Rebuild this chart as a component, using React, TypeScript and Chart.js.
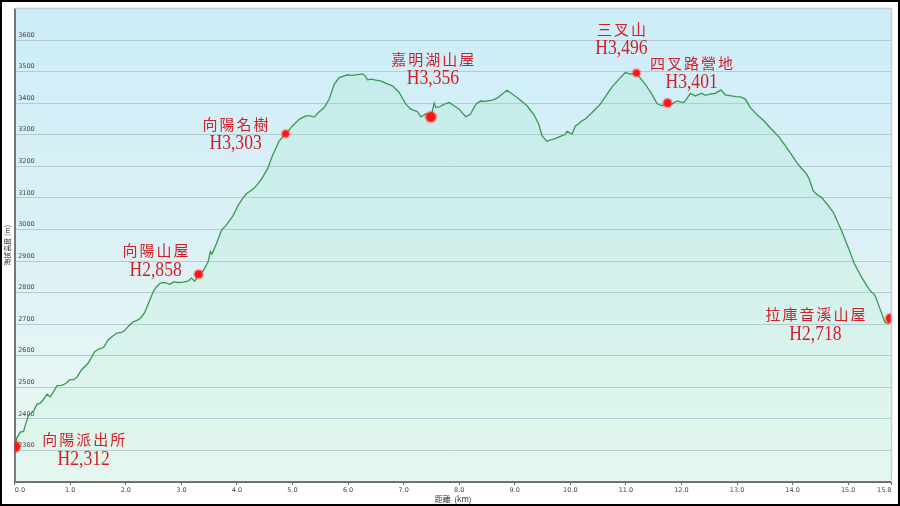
import React, { useEffect, useRef } from 'react';
import { Chart, registerables } from 'chart.js';

Chart.register(...registerables);

// Trail profile: distance along the route (km) and elevation (m)
const distanceKm = [
  0, 0.04, 0.1, 0.16, 0.2, 0.25, 0.3, 0.34, 0.4, 0.46, 0.52, 0.58, 0.64, 0.7, 0.76, 0.84, 0.92, 0.99,
  1.06, 1.12, 1.2, 1.32, 1.44, 1.52, 1.6, 1.68, 1.76, 1.84, 1.92, 1.98, 2.06, 2.12, 2.2, 2.26, 2.34,
  2.43, 2.49, 2.55, 2.62, 2.7, 2.79, 2.86, 2.94, 3.03, 3.12, 3.18, 3.24, 3.31, 3.39, 3.48, 3.52, 3.55,
  3.63, 3.72, 3.78, 3.84, 3.93, 4.02, 4.1, 4.17, 4.24, 4.3, 4.35, 4.4, 4.46, 4.55, 4.64, 4.76, 4.875,
  5.0, 5.12, 5.24, 5.32, 5.39, 5.48, 5.57, 5.66, 5.75, 5.84, 5.92, 5.99, 6.06, 6.14, 6.26, 6.3, 6.35,
  6.42, 6.5, 6.6, 6.68, 6.8, 6.92, 6.98, 7.04, 7.13, 7.25, 7.31, 7.4, 7.44, 7.49, 7.55, 7.58, 7.64,
  7.7, 7.76, 7.82, 7.88, 8.0, 8.06, 8.12, 8.2, 8.3, 8.38, 8.46, 8.53, 8.6, 8.68, 8.78, 8.86, 8.95,
  9.04, 9.13, 9.22, 9.34, 9.43, 9.49, 9.58, 9.64, 9.7, 9.78, 9.85, 9.9, 9.94, 10.03, 10.09, 10.15,
  10.21, 10.27, 10.33, 10.45, 10.54, 10.64, 10.75, 10.9, 10.99, 11.08, 11.19, 11.23, 11.35, 11.47,
  11.56, 11.65, 11.75, 11.83, 11.92, 11.98, 12.04, 12.1, 12.16, 12.25, 12.31, 12.37, 12.43, 12.49,
  12.55, 12.61, 12.71, 12.79, 12.9, 12.98, 13.06, 13.15, 13.24, 13.38, 13.48, 13.59, 13.75, 13.89,
  13.98, 14.07, 14.16, 14.25, 14.3, 14.37, 14.44, 14.52, 14.62, 14.73, 14.88, 15.0, 15.11, 15.24,
  15.39, 15.48, 15.57, 15.66, 15.72, 15.76,
];

const elevationM = [
  2312, 2340, 2358, 2360, 2385, 2412, 2418, 2425, 2446, 2450, 2462, 2478, 2470, 2486, 2505, 2506, 2512, 2524,
  2524, 2532, 2555, 2576, 2613, 2622, 2626, 2650, 2662, 2672, 2674, 2680, 2696, 2706, 2712, 2718, 2737,
  2776, 2802, 2818, 2830, 2832, 2826, 2834, 2832, 2833, 2836, 2846, 2836, 2858, 2868, 2897, 2930, 2922,
  2955, 2997, 3008, 3022, 3044, 3076, 3098, 3113, 3122, 3130, 3139, 3150, 3165, 3192, 3234, 3281, 3303,
  3328, 3349, 3360, 3360, 3356, 3373, 3386, 3413, 3460, 3481, 3486, 3490, 3488, 3490, 3493, 3488, 3474,
  3476, 3473, 3470, 3463, 3455, 3434, 3415, 3397, 3381, 3373, 3357, 3366, 3366, 3356, 3400, 3386, 3388,
  3394, 3399, 3402, 3395, 3381, 3368, 3357, 3365, 3397, 3407, 3406, 3408, 3410, 3416, 3430, 3441, 3430,
  3418, 3405, 3392, 3365, 3334, 3297, 3279, 3284, 3286, 3292, 3297, 3300, 3311, 3302, 3328, 3335,
  3344, 3350, 3360, 3381, 3397, 3423, 3452, 3481, 3497, 3492, 3496, 3486, 3460, 3428,
  3399, 3392, 3401, 3397, 3407, 3404, 3402, 3415, 3431, 3423, 3428, 3431, 3425, 3428,
  3430, 3431, 3442, 3426, 3423, 3421, 3420, 3413, 3386, 3360, 3345, 3323, 3294, 3260,
  3237, 3213, 3194, 3176, 3160, 3123, 3110, 3102, 3080, 3055, 2997, 2944, 2892, 2849,
  2807, 2792, 2750, 2707, 2702, 2718,
];

// Waypoints along the route
const waypointNames = ['向陽派出所', '向陽山屋', '向陽名樹', '嘉明湖山屋', '三叉山', '四叉路營地', '拉庫音溪山屋'];
const waypointKm = [0, 3.31, 4.875, 7.49, 11.19, 11.75, 15.76];
const waypointElev = [2312, 2858, 3303, 3356, 3496, 3401, 2718];

// Axis ticks
const xTickValues = [0, 1, 2, 3, 4, 5, 6, 7, 8, 9, 10, 11, 12, 13, 14, 15, 15.78];
const yMin = 2200;
const yMax = 3700;
const yStep = 100;

// Label placement: centre of the name line relative to its marker (px)
const labelOffsets: [number, number][] = [
  [69, -7],
  [-43, -24],
  [-50, -10],
  [2, -58],
  [-15, -44],
  [24, -40],
  [-75, -4],
];
const markerRadii = [5.5, 4, 3.5, 5, 3.5, 4, 4.5];

const backgroundPlugin = {
  id: 'plotBackground',
  beforeDraw(chart: any) {
    const { ctx, chartArea, width, height } = chart;
    ctx.save();
    ctx.fillStyle = '#ffffff';
    ctx.fillRect(0, 0, width, height);
    if (chartArea) {
      const g = ctx.createLinearGradient(0, chartArea.top, 0, chartArea.bottom);
      g.addColorStop(0, '#cdedf8');
      g.addColorStop(0.5, '#dcf1f5');
      g.addColorStop(1, '#ecf9f3');
      ctx.fillStyle = g;
      ctx.fillRect(chartArea.left, chartArea.top, chartArea.right - chartArea.left, chartArea.bottom - chartArea.top);
    }
    ctx.restore();
  },
  afterDraw(chart: any) {
    const { ctx, chartArea, width, height } = chart;
    ctx.save();
    // light frame on the top and right of the plot
    ctx.strokeStyle = '#c3cfd6';
    ctx.lineWidth = 1.5;
    ctx.beginPath();
    ctx.moveTo(chartArea.left, chartArea.top);
    ctx.lineTo(chartArea.right, chartArea.top);
    ctx.lineTo(chartArea.right, chartArea.bottom);
    ctx.stroke();
    // outer black frame
    ctx.strokeStyle = '#000000';
    ctx.lineWidth = 2;
    ctx.strokeRect(1, 1, width - 2, height - 2);
    ctx.restore();
  },
};

const waypointLabelPlugin = {
  id: 'waypointLabels',
  afterDatasetsDraw(chart: any) {
    const { ctx } = chart;
    const meta = chart.getDatasetMeta(1);
    ctx.save();
    ctx.fillStyle = '#cf1f28';
    ctx.textAlign = 'center';
    ctx.textBaseline = 'middle';
    meta.data.forEach((pt: any, i: number) => {
      const [dx, dy] = labelOffsets[i];
      const cx = pt.x + dx;
      const cy = pt.y + dy;
      ctx.font = "15px 'Noto Sans CJK TC'";
      (ctx as any).letterSpacing = '2px';
      ctx.fillText(waypointNames[i], cx + 1, cy);
      (ctx as any).letterSpacing = '0px';
      ctx.save();
      ctx.translate(cx, cy + 20);
      ctx.scale(0.88, 1);
      ctx.font = "20px 'Liberation Serif'";
      ctx.fillText('H' + waypointElev[i].toLocaleString('en-US'), 0, 0);
      ctx.restore();
    });
    ctx.restore();
  },
};

export default function App() {
  const canvasRef = useRef<HTMLCanvasElement | null>(null);

  useEffect(() => {
    const canvas = canvasRef.current;
    if (!canvas) return;

    const chart = new Chart(canvas, {
      type: 'line',
      data: {
        datasets: [
          {
            label: '高度',
            data: distanceKm.map((x, i) => ({ x, y: elevationM[i] })),
            borderColor: '#38984e',
            borderWidth: 1.3,
            pointRadius: 0,
            tension: 0,
            fill: 'origin',
            backgroundColor: (c: any) => {
              const area = c.chart.chartArea;
              if (!area) return 'rgba(140,225,175,0.15)';
              const g = c.chart.ctx.createLinearGradient(0, area.top, 0, area.bottom);
              g.addColorStop(0, 'rgba(130,225,170,0.18)');
              g.addColorStop(1, 'rgba(150,230,185,0.1)');
              return g;
            },
            order: 2,
          },
          {
            label: '地標',
            data: waypointKm.map((x, i) => ({ x, y: waypointElev[i] })),
            showLine: false,
            pointRadius: markerRadii,
            pointBackgroundColor: '#ff1414',
            pointBorderColor: 'rgba(255,50,50,0.35)',
            pointBorderWidth: 3,
            order: 1,
          },
        ],
      },
      options: {
        responsive: false,
        animation: false,
        layout: { padding: { top: 5, right: 6.7, left: 0, bottom: 2 } },
        plugins: {
          legend: { display: false },
          tooltip: { enabled: false },
        },
        scales: {
          x: {
            type: 'linear',
            min: 0,
            max: 15.78,
            afterBuildTicks: (scale: any) => {
              scale.ticks = xTickValues.map((v) => ({ value: v }));
            },
            afterFit: (scale: any) => {
              scale.height = 22;
              scale.paddingLeft = 0;
              scale.paddingRight = 0;
            },
            ticks: {
              autoSkip: false,
              maxRotation: 0,
              align: 'inner',
              padding: 1,
              color: '#444',
              font: { family: 'DejaVu Sans', size: 6.5 },
              callback: (v: any) => Number(v).toFixed(1),
            },
            grid: { drawOnChartArea: false, drawTicks: true, tickLength: 3, color: '#666' },
            border: { color: '#6c6c6c', width: 2 },
            title: {
              display: true,
              text: '距離  (km)',
              color: '#333',
              font: { family: 'Noto Sans CJK TC', size: 8 },
              padding: { top: 0, bottom: 0 },
            },
          },
          y: {
            min: yMin,
            max: yMax,
            afterFit: (scale: any) => {
              scale.width = 14.7;
              scale.paddingTop = 0;
              scale.paddingBottom = 0;
            },
            ticks: {
              stepSize: yStep,
              mirror: true,
              padding: 3.5,
              labelOffset: -5,
              color: '#444',
              font: { family: 'DejaVu Sans', size: 6.5 },
              callback: (v: any) => (v === yMin || v === yMax ? '' : String(v)),
            },
            grid: { color: '#b5cbd4', lineWidth: 1, drawTicks: false },
            border: { color: '#777', width: 2 },
            title: {
              display: true,
              text: '海拔高度 (m)',
              color: '#333',
              font: { family: 'Noto Sans CJK TC', size: 7 },
              padding: { top: 3, bottom: 0 },
            },
          },
        },
      },
      plugins: [backgroundPlugin, waypointLabelPlugin],
    } as any);

    return () => chart.destroy();
  }, []);

  return (
    <div style={{ position: 'fixed', left: 0, top: 0, width: 900, height: 506 }}>
      <canvas ref={canvasRef} width={900} height={506} style={{ display: 'block' }} />
    </div>
  );
}
